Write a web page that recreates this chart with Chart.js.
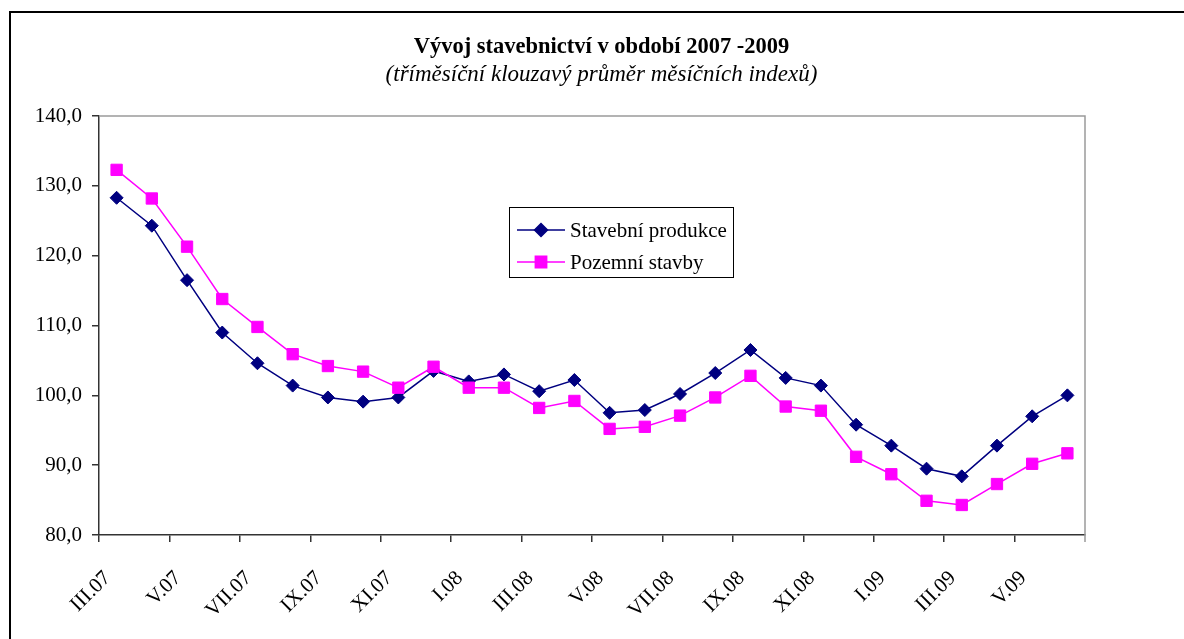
<!DOCTYPE html>
<html><head><meta charset="utf-8">
<script src="https://cdn.jsdelivr.net/npm/chart.js@4.4.1/dist/chart.umd.min.js"></script>
<style>html,body{margin:0;padding:0;background:#fff;overflow:hidden}#c{display:block}</style>
</head><body>
<canvas id="c" width="1184" height="639"></canvas>
<script>
// ---- data ----
const categories = ['III.07','IV.07','V.07','VI.07','VII.07','VIII.07','IX.07','X.07','XI.07','XII.07',
  'I.08','II.08','III.08','IV.08','V.08','VI.08','VII.08','VIII.08','IX.08','X.08','XI.08','XII.08',
  'I.09','II.09','III.09','IV.09','V.09','VI.09'];
const stavebniProdukce = [128.3,124.3,116.5,109.0,104.6,101.4,99.7,99.1,99.7,103.5,102.0,103.0,100.6,102.2,
  97.5,97.9,100.2,103.2,106.5,102.5,101.4,95.8,92.8,89.5,88.4,92.8,97.0,100.0];
const pozemniStavby = [132.3,128.2,121.3,113.8,109.8,105.9,104.2,103.4,101.1,104.1,101.1,101.1,98.2,99.2,
  95.2,95.5,97.1,99.7,102.8,98.4,97.8,91.2,88.7,84.9,84.3,87.3,90.2,91.7];
const yTicks = [80,90,100,110,120,130,140];
const seriesNames = ['Stavební produkce','Pozemní stavby'];
const titleText = 'Vývoj stavebnictví v období 2007 -2009';
const subtitleText = '(tříměsíční klouzavý průměr měsíčních indexů)';

const SERIF = "'Liberation Serif','Times New Roman',serif";
const NAVY = '#000080', MAGENTA = '#FF00FF';

const framePlugin = {
  id: 'frame',
  beforeDraw(chart) {
    const ctx = chart.ctx;
    ctx.save(); ctx.fillStyle = '#fff'; ctx.fillRect(0, 0, chart.width, chart.height); ctx.restore();
  },
  beforeDatasetsDraw(chart) {
    const ctx = chart.ctx, a = chart.chartArea;
    ctx.save();
    ctx.strokeStyle = '#9a9a9a'; ctx.lineWidth = 1.5;
    ctx.beginPath();
    ctx.moveTo(a.left, a.top); ctx.lineTo(a.right, a.top); ctx.lineTo(a.right, a.bottom + 7);
    ctx.stroke();
    ctx.restore();
  },
  afterDraw(chart) {
    const ctx = chart.ctx;
    ctx.save();
    ctx.strokeStyle = '#000'; ctx.lineWidth = 2;
    ctx.strokeRect(10, 12, chart.width + 20, chart.height + 20);
    // legend box
    ctx.lineWidth = 1; ctx.strokeStyle = '#000';
    ctx.strokeRect(509.5, 207.5, 224, 70);
    const rows = [230, 262];
    chart.data.datasets.forEach((ds, i) => {
      const y = rows[i];
      ctx.strokeStyle = ds.borderColor; ctx.lineWidth = 1.5;
      ctx.beginPath(); ctx.moveTo(517, y); ctx.lineTo(565, y); ctx.stroke();
      ctx.fillStyle = ds.pointBackgroundColor; ctx.strokeStyle = ds.pointBorderColor;
      Chart.helpers.drawPoint(ctx, {pointStyle: ds.pointStyle, radius: ds.pointRadius, borderWidth: 1, rotation: 0}, 541, y);
      ctx.fillStyle = '#000'; ctx.font = '21px ' + SERIF; ctx.textBaseline = 'middle'; ctx.textAlign = 'left';
      ctx.fillText(ds.label, 570, y + 1);
    });
    ctx.restore();
  }
};

new Chart(document.getElementById('c'), {
  type: 'line',
  data: {
    labels: categories,
    datasets: [
      { label: seriesNames[0], data: stavebniProdukce, borderColor: NAVY, borderWidth: 1.5,
        pointStyle: 'rectRot', pointRadius: 6.5, pointBackgroundColor: NAVY, pointBorderColor: NAVY,
        pointBorderWidth: 1, tension: 0, order: 1 },
      { label: seriesNames[1], data: pozemniStavby, borderColor: MAGENTA, borderWidth: 1.5,
        pointStyle: 'rect', pointRadius: 8, pointBackgroundColor: MAGENTA, pointBorderColor: MAGENTA,
        pointBorderWidth: 1, tension: 0, order: 0 }
    ]
  },
  options: {
    responsive: false, animation: false, devicePixelRatio: 1,
    layout: { padding: { left: 19, right: 0, top: 0, bottom: 0 } },
    plugins: {
      legend: { display: false },
      tooltip: { enabled: false },
      title: { display: true, text: titleText, color: '#000',
        font: { family: SERIF, size: 22.5, weight: 'bold' }, padding: { top: 34, bottom: 0 } },
      subtitle: { display: true, text: subtitleText, color: '#000',
        font: { family: SERIF, size: 23, style: 'italic' }, padding: { top: 0.5, bottom: 27 } }
    },
    scales: {
      x: {
        type: 'category', offset: true,
        grid: { offset: true, drawOnChartArea: false, drawTicks: true, tickLength: 7, lineWidth: 1.5,
          color: c => (c.index !== undefined && c.index % 2 === 0) ? '#333' : 'rgba(0,0,0,0)' },
        border: { display: true, color: '#333', width: 1.5 },
        ticks: { autoSkip: false, minRotation: 45, maxRotation: 45, padding: 24, labelOffset: -9, color: '#000',
          font: { family: SERIF, size: 21 },
          callback: function(v, i) { return i % 2 === 0 ? categories[i] : ''; } },
        afterFit: s => { s.height = 104; }
      },
      y: {
        type: 'linear', position: 'left', min: yTicks[0], max: yTicks[yTicks.length - 1],
        afterBuildTicks: s => { s.ticks = yTicks.map(v => ({ value: v })); },
        grid: { drawOnChartArea: false, drawTicks: true, tickLength: 7, lineWidth: 1.5, color: '#333' },
        border: { display: true, color: '#333', width: 1.5 },
        ticks: { padding: 10, color: '#000', font: { family: SERIF, size: 21 },
          callback: v => v.toFixed(1).replace('.', ',') },
        afterFit: s => { s.width = 80; }
      },
      yPad: {
        type: 'linear', position: 'right', display: true,
        grid: { display: false, drawTicks: false }, border: { display: false },
        ticks: { display: false },
        afterFit: s => { s.width = 99; }
      }
    }
  },
  plugins: [framePlugin]
});
</script>
</body></html>
